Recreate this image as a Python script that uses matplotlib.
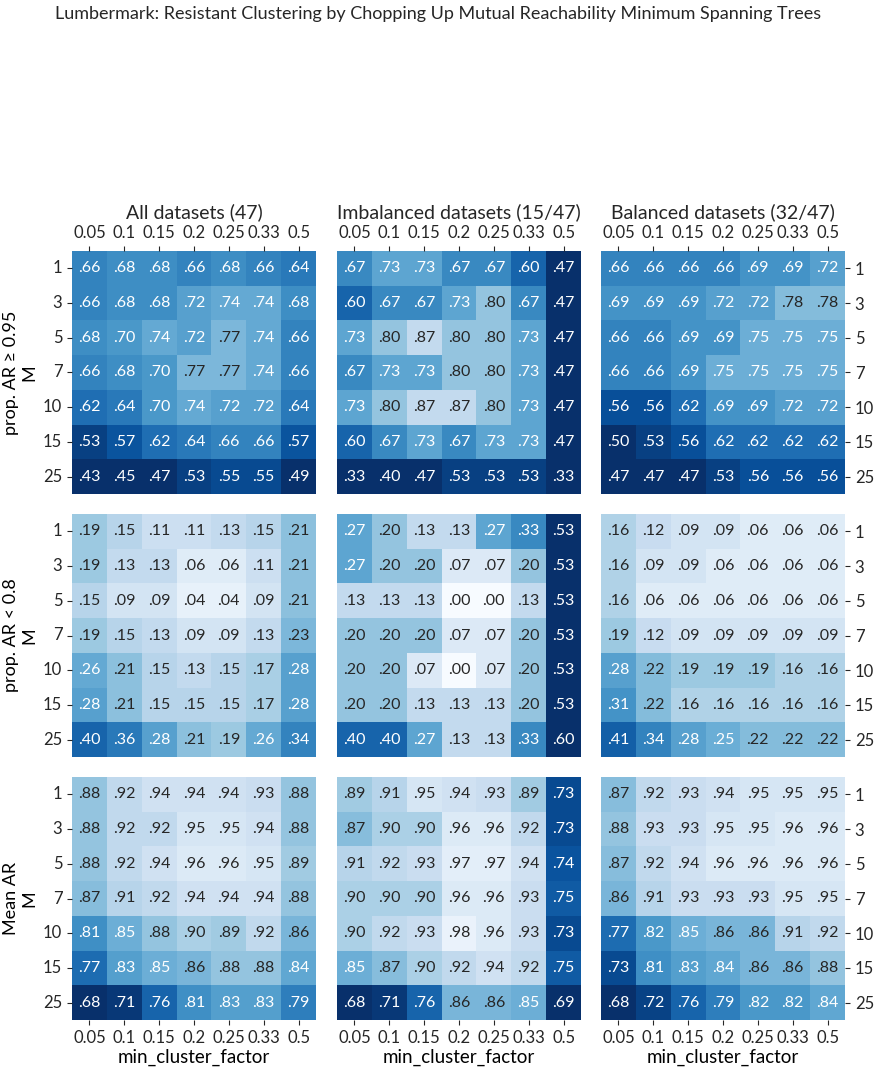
import numpy as np
import matplotlib
matplotlib.use("Agg")
import matplotlib.pyplot as plt
import seaborn as sns

plt.rcParams['font.family'] = ['Lato', 'DejaVu Sans']
plt.rcParams['text.color'] = '#262626'
plt.rcParams['xtick.color'] = '#262626'
plt.rcParams['ytick.color'] = '#262626'

factors = ["0.05", "0.1", "0.15", "0.2", "0.25", "0.33", "0.5"]
Ms = ["1", "3", "5", "7", "10", "15", "25"]
titles = ["All datasets (47)", "Imbalanced datasets (15/47)", "Balanced datasets (32/47)"]
row_labels = ["prop. AR ≥ 0.95\nM", "prop. AR < 0.8\nM", "Mean AR\nM"]

# prop. AR >= 0.95
hi_all = [[.66, .68, .68, .66, .68, .66, .64],
          [.66, .68, .68, .72, .74, .74, .68],
          [.68, .70, .74, .72, .77, .74, .66],
          [.66, .68, .70, .77, .77, .74, .66],
          [.62, .64, .70, .74, .72, .72, .64],
          [.53, .57, .62, .64, .66, .66, .57],
          [.43, .45, .47, .53, .55, .55, .49]]
hi_imb = [[.67, .73, .73, .67, .67, .60, .47],
          [.60, .67, .67, .73, .80, .67, .47],
          [.73, .80, .87, .80, .80, .73, .47],
          [.67, .73, .73, .80, .80, .73, .47],
          [.73, .80, .87, .87, .80, .73, .47],
          [.60, .67, .73, .67, .73, .73, .47],
          [.33, .40, .47, .53, .53, .53, .33]]
hi_bal = [[.66, .66, .66, .66, .69, .69, .72],
          [.69, .69, .69, .72, .72, .78, .78],
          [.66, .66, .69, .69, .75, .75, .75],
          [.66, .66, .69, .75, .75, .75, .75],
          [.56, .56, .62, .69, .69, .72, .72],
          [.50, .53, .56, .62, .62, .62, .62],
          [.47, .47, .47, .53, .56, .56, .56]]

# prop. AR < 0.8
lo_all = [[.19, .15, .11, .11, .13, .15, .21],
          [.19, .13, .13, .06, .06, .11, .21],
          [.15, .09, .09, .04, .04, .09, .21],
          [.19, .15, .13, .09, .09, .13, .23],
          [.26, .21, .15, .13, .15, .17, .28],
          [.28, .21, .15, .15, .15, .17, .28],
          [.40, .36, .28, .21, .19, .26, .34]]
lo_imb = [[.27, .20, .13, .13, .27, .33, .53],
          [.27, .20, .20, .07, .07, .20, .53],
          [.13, .13, .13, .00, .00, .13, .53],
          [.20, .20, .20, .07, .07, .20, .53],
          [.20, .20, .07, .00, .07, .20, .53],
          [.20, .20, .13, .13, .13, .20, .53],
          [.40, .40, .27, .13, .13, .33, .60]]
lo_bal = [[.16, .12, .09, .09, .06, .06, .06],
          [.16, .09, .09, .06, .06, .06, .06],
          [.16, .06, .06, .06, .06, .06, .06],
          [.19, .12, .09, .09, .09, .09, .09],
          [.28, .22, .19, .19, .19, .16, .16],
          [.31, .22, .16, .16, .16, .16, .16],
          [.41, .34, .28, .25, .22, .22, .22]]

# mean AR
mean_all = [[.88, .92, .94, .94, .94, .93, .88],
            [.88, .92, .92, .95, .95, .94, .88],
            [.88, .92, .94, .96, .96, .95, .89],
            [.87, .91, .92, .94, .94, .94, .88],
            [.81, .85, .88, .90, .89, .92, .86],
            [.77, .83, .85, .86, .88, .88, .84],
            [.68, .71, .76, .81, .83, .83, .79]]
mean_imb = [[.89, .91, .95, .94, .93, .89, .73],
            [.87, .90, .90, .96, .96, .92, .73],
            [.91, .92, .93, .97, .97, .94, .74],
            [.90, .90, .90, .96, .96, .93, .75],
            [.90, .92, .93, .98, .96, .93, .73],
            [.85, .87, .90, .92, .94, .92, .75],
            [.68, .71, .76, .86, .86, .85, .69]]
mean_bal = [[.87, .92, .93, .94, .95, .95, .95],
            [.88, .93, .93, .95, .95, .96, .96],
            [.87, .92, .94, .96, .96, .96, .96],
            [.86, .91, .93, .93, .93, .95, .95],
            [.77, .82, .85, .86, .86, .91, .92],
            [.73, .81, .83, .84, .86, .86, .88],
            [.68, .72, .76, .79, .82, .82, .84]]

grid = [[hi_all, hi_imb, hi_bal],
        [lo_all, lo_imb, lo_bal],
        [mean_all, mean_imb, mean_bal]]
# colour scale per row
scales = [("Blues_r", 0.5, 1.0), ("Blues", 0.0, 0.5), ("Blues_r", 0.7, 1.0)]

fig = plt.figure(figsize=(8.76, 10.73), dpi=100)
W, H = 876, 1073
lefts = [72, 337, 601]
tops = [251, 514, 777]
size_w, size_h = 244, 243

for i in range(3):
    cmap, vmin, vmax = scales[i]
    for j in range(3):
        ax = fig.add_axes([lefts[j] / W, 1 - (tops[i] + size_h) / H, size_w / W, size_h / H])
        vals = np.array(grid[i][j])
        labels = np.array([[("%.2f" % v)[1:] for v in row] for row in vals])
        sns.heatmap(vals, ax=ax, cmap=cmap, vmin=vmin, vmax=vmax, cbar=False,
                    annot=labels, fmt="", annot_kws={"size": 11.5},
                    xticklabels=factors, yticklabels=Ms)
        ax.tick_params(labelsize=12, length=3.5, width=0.8)
        ax.set_yticklabels(Ms, rotation=0)
        ax.set_xticklabels(factors, rotation=0)
        if i == 0:
            ax.xaxis.tick_top()
            ax.set_title(titles[j], fontsize=14, pad=5)
        elif i == 1:
            ax.set_xticks([])
        else:
            ax.set_xlabel("min_cluster_factor", fontsize=13.5, labelpad=2)
        if j == 0:
            ax.set_ylabel(row_labels[i], fontsize=13)
        elif j == 1:
            ax.set_yticks([])
        else:
            ax.yaxis.tick_right()
            ax.set_yticklabels(Ms, rotation=0)

fig.suptitle("Lumbermark: Resistant Clustering by Chopping Up Mutual Reachability Minimum Spanning Trees",
             fontsize=13, y=1 - 14 / H, va="center")
fig.savefig("out.png", dpi=100)
